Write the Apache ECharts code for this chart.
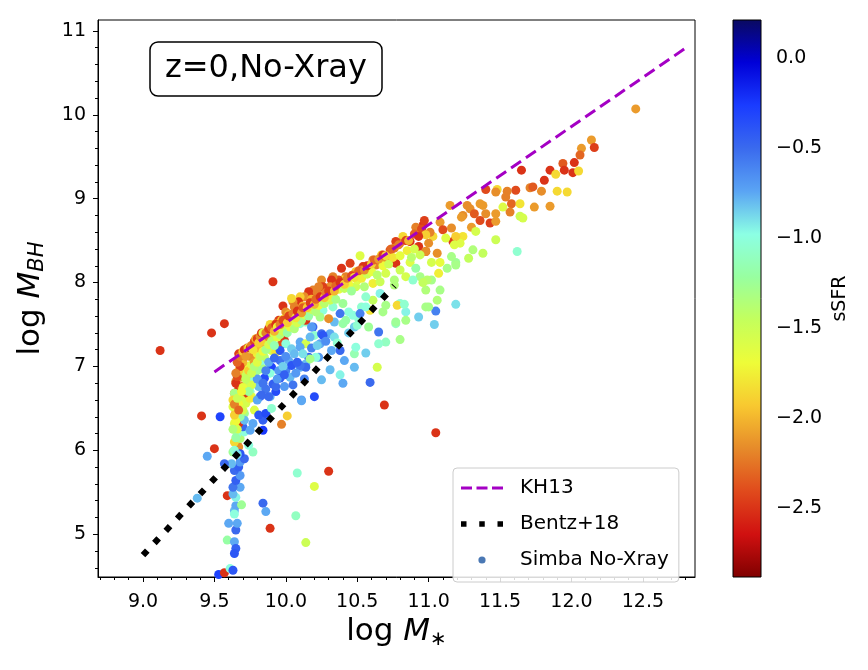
<!DOCTYPE html>
<html><head><meta charset="utf-8">
<script src="https://cdn.jsdelivr.net/npm/echarts@6/dist/echarts.min.js"></script>
<style>html,body{margin:0;padding:0;background:#fff}#c{width:868px;height:670px}</style>
</head><body><div id="c"></div>
<script>
// ---------------- data ----------------
const logMstar = [
12.45,12.14,12.16,12.07,12.06,12.02,11.94,11.95,12.01,12.05,
11.85,11.89,11.81,11.65,11.71,11.73,11.79,11.90,11.97,11.85,
11.74,11.61,11.55,11.48,11.47,11.40,11.54,11.58,11.64,11.52,
11.57,11.64,11.66,11.47,11.43,11.47,11.40,11.36,11.38,11.36,
11.27,11.24,11.30,11.24,11.33,11.47,11.62,11.38,11.31,11.15,
11.08,11.16,11.17,11.10,11.03,10.96,11.06,10.98,11.22,11.29,
11.32,11.23,10.97,11.01,11.12,11.19,
10.91,10.95,10.98,10.93,10.98,11.00,10.87,10.82,10.80,10.77,
10.76,10.73,10.71,10.77,10.67,10.66,10.63,10.61,10.58,10.54,
10.52,10.53,10.49,10.45,10.47,10.42,10.39,10.40,10.37,10.33,
10.32,10.31,10.25,10.26,10.23,10.19,10.18,10.24,10.28,10.16,
10.13,10.10,10.09,10.05,10.06,9.98,10.04,10.00,10.03,9.99,
10.49,10.55,10.61,10.66,10.70,10.76,10.84,10.94,10.89,10.98,
10.98,10.93,10.80,10.84,10.77,10.70,10.66,10.61,10.56,10.53,
10.59,10.51,10.48,10.42,10.44,10.40,10.33,10.38,10.34,10.31,
10.26,10.24,10.30,10.19,10.21,10.14,10.12,10.10,10.05,10.14,
9.91,9.57,9.48,10.14,10.01,9.95,9.90,9.93,9.99,9.97,
9.87,9.84,9.83,9.78,9.76,9.82,9.75,9.78,9.74,9.75,
9.69,9.68,9.67,9.69,9.65,9.64,9.71,9.75,9.76,9.85,
9.90,9.93,10.00,10.04,9.96,10.10,10.14,10.20,10.18,10.25,
10.23,10.16,10.10,10.14,10.02,9.96,9.90,9.95,10.00,10.03,
9.96,9.89,9.85,9.81,9.86,9.99,9.89,9.82,9.93,10.20,
9.82,9.84,
10.78,10.83,11.04,11.05,11.00,10.84,10.77,10.68,10.65,10.58,
10.80,10.70,10.65,10.56,10.48,10.49,10.64,10.59,10.48,10.41,
10.38,10.40,10.31,10.25,10.11,10.69,11.05,10.38,10.32,10.21,
10.17,10.14,10.10,10.05,10.04,10.31,10.24,10.26,10.17,10.10,
10.56,10.47,10.40,10.50,10.52,
9.41,9.54,9.50,9.45,9.38,9.59,9.89,9.84,9.86,10.08,
10.20,10.30,10.07,10.14,9.53,9.57,9.61,9.63,9.59,9.64,
9.65,9.64,9.65,9.66,9.60,9.64,9.65,9.69,9.64,9.65,
9.63,9.68,9.63,9.65,9.68,9.64,9.67,9.68,9.62,9.71,
9.57,9.66,9.67,9.64,9.68,9.71,9.66,9.67,9.70,9.64,
9.67,9.65,9.63,9.68,9.71,9.72,9.75,9.68,9.71,9.64,
9.65,9.74,9.78,9.80,9.83,9.84,9.81,9.86,9.84,9.75,
9.77,9.71,9.90,9.91,9.93,9.88,9.97,10.01,10.11,9.77,
9.63,9.68,9.74,9.12,
11.19,11.19,11.07,11.02,11.13,11.16,11.28,11.19,11.08,11.06,
10.94,11.02,10.87,10.80,10.91,10.76,10.99,11.08,11.18,10.96,
9.70,9.72,9.70,9.73,9.69,9.67,9.66,9.68,9.70,9.66,
9.65,9.64,9.66,9.74,9.76,9.78,9.80,9.82,9.85,9.88,
9.87,9.92,9.95,9.97,10.00,10.02,10.06,10.08,10.12,10.15,
10.18,10.20,10.22,10.25,9.80,9.78,9.76,
9.86,9.88,9.92,9.98,10.00,10.06,10.08,10.12,10.18,10.22,
10.28,10.34,10.36,10.44,9.94,9.99,10.07,10.13,9.80,9.84,
9.70,9.72,9.74,9.76,9.78,9.80,9.82,9.84,9.86,9.88,
9.90,9.92,9.94,9.96,9.98,10.01,10.03,10.06,10.08,10.11,
10.13,10.16,10.18,10.21,10.23,10.27,10.29,10.32,10.35,10.37,
10.41,10.44,10.46,10.50,10.53,10.57,10.60,10.64,10.68,10.72,
10.75,10.80,10.85,10.90,10.88,
9.63,9.64,9.65,9.63,9.64,9.66,9.67,9.69,9.66,9.67,9.68,9.65,
9.66,9.67,9.68,9.70,9.71,9.72,9.73,9.74,9.75,9.76,
9.77,9.78,9.79,9.80,9.81,9.82,9.83,9.84,9.86,9.88,
9.89,9.90,9.92,9.93,9.94,9.96,9.98,10.01,10.02,10.05,
10.07,10.08,10.11,10.12,10.15,10.17,10.20,10.21,10.24,10.27,
10.28,10.30,10.34,10.35,10.38,10.41,10.43,10.46,10.48,10.51,
10.55,10.57,10.60,10.62,10.65,10.68,10.70,10.74,10.79,10.84,
10.86,10.90,10.93
];
const logMBH = [
10.07,9.70,9.61,9.60,9.52,9.43,9.42,9.34,9.31,9.33,
9.34,9.29,9.22,9.34,9.13,9.14,9.09,9.09,9.08,8.91,
8.90,9.10,9.09,9.11,9.08,9.11,9.02,8.94,8.94,8.90,
8.84,8.79,8.77,8.82,8.71,8.73,8.82,8.74,8.92,8.94,
8.92,8.80,8.66,8.55,8.61,8.51,8.37,8.35,8.39,8.92,
8.72,8.65,8.49,8.63,8.55,8.68,8.35,8.37,8.47,8.88,
8.82,8.78,8.74,8.60,8.53,8.55,
8.66,8.64,8.57,8.43,8.37,8.47,8.49,8.55,8.47,8.49,
8.41,8.39,8.28,8.23,8.33,8.25,8.21,8.27,8.19,8.19,
8.32,8.15,8.13,8.23,8.09,8.07,8.17,8.03,8.03,8.07,
8.03,7.95,8.03,7.95,7.95,7.91,7.85,7.85,7.87,7.89,
7.83,7.83,7.77,7.77,7.71,7.72,7.81,7.65,7.59,7.57,
7.95,7.95,7.99,8.01,8.11,8.03,8.07,8.07,8.03,7.91,
7.71,7.59,7.75,7.65,7.51,7.73,7.87,7.79,7.83,7.71,
7.67,7.57,7.47,7.55,7.65,7.75,7.71,7.63,7.53,7.79,
7.67,7.59,7.57,7.47,7.71,7.67,7.59,7.51,7.51,7.53,
8.01,7.51,7.40,7.55,7.63,7.55,7.43,7.51,7.31,7.27,
7.29,7.25,7.19,7.27,7.11,7.07,6.99,6.89,6.95,6.82,
6.95,6.87,6.73,6.76,6.82,6.68,6.66,6.70,6.64,7.11,
7.19,7.17,7.27,7.21,7.19,7.29,7.27,7.37,7.47,7.39,
7.11,7.11,6.99,7.03,7.07,7.07,6.99,6.95,6.95,6.87,
6.86,6.92,6.86,6.76,6.73,6.76,6.64,6.64,6.70,6.64,
7.03,6.97,
7.73,7.74,7.50,7.66,7.71,7.55,7.53,7.65,7.41,7.47,
7.32,7.29,7.27,7.16,7.15,7.23,6.99,6.81,6.99,7.07,
6.90,6.80,6.96,6.84,6.60,6.54,6.21,7.19,7.19,7.11,
7.09,6.99,7.01,6.78,7.01,7.39,7.27,7.37,7.35,7.23,
7.71,7.61,7.51,7.49,7.63,
6.41,6.40,6.02,5.93,5.43,5.46,5.07,5.37,5.27,5.73,
5.57,5.75,5.22,4.90,4.52,4.54,4.59,4.57,4.93,4.91,
4.83,4.77,5.05,5.13,5.13,5.28,5.34,5.35,5.24,5.44,
5.48,5.56,5.56,5.64,5.70,5.76,5.80,5.86,5.84,5.90,
5.84,6.06,6.04,6.10,6.14,6.22,6.20,6.28,6.28,6.32,
6.32,6.45,6.52,6.52,6.44,6.56,6.62,6.66,6.68,6.68,
6.80,6.80,6.48,6.60,6.66,6.36,6.42,6.44,6.24,6.24,
6.32,6.36,6.50,6.79,6.76,6.64,6.31,6.41,6.59,5.98,
5.98,5.96,6.06,7.19,
7.74,8.24,8.11,8.03,8.17,8.31,8.29,8.21,7.91,7.79,
8.33,8.24,8.24,8.15,8.17,7.97,8.03,8.24,8.45,8.00,
6.90,7.00,7.05,6.75,6.60,6.55,6.40,6.40,6.48,6.25,
6.15,6.00,5.95,6.95,7.02,7.05,7.15,7.22,7.30,7.35,
7.42,7.38,7.45,7.55,7.50,7.62,7.55,7.65,7.72,7.68,
7.80,7.75,7.88,7.78,6.95,6.85,6.78,
6.95,7.05,7.10,7.00,7.12,7.15,7.05,7.15,7.22,7.25,
7.30,7.35,7.28,7.40,6.85,6.90,6.92,6.85,6.85,6.80,
6.75,6.85,6.70,6.92,7.00,7.05,7.12,7.18,7.20,7.26,
7.30,7.25,7.35,7.38,7.42,7.40,7.47,7.45,7.52,7.55,
7.62,7.60,7.68,7.65,7.73,7.75,7.82,7.85,7.80,7.92,
7.93,7.98,7.90,8.03,8.05,8.10,8.13,8.09,8.20,8.22,
8.30,8.32,8.38,8.40,8.30,
6.60,6.55,6.35,6.25,6.42,6.62,6.48,6.70,6.88,6.95,7.00,6.92,
7.05,7.15,7.12,7.18,7.20,7.12,7.22,7.22,7.22,7.25,
7.20,7.30,7.33,7.33,7.28,7.36,7.40,7.40,7.40,7.45,
7.50,7.46,7.42,7.50,7.47,7.50,7.55,7.52,7.60,7.63,
7.58,7.66,7.64,7.70,7.70,7.76,7.74,7.80,7.83,7.82,
7.88,7.90,7.90,7.96,8.00,7.98,8.05,8.08,8.06,8.14,
8.15,8.20,8.22,8.27,8.28,8.33,8.32,8.40,8.45,8.50,
8.50,8.58,8.55
];
const sSFR = [
-2.1,-2.1,-2.45,-2.1,-2.3,-2.5,-2.35,-2.5,-2.5,-1.85,
-2.5,-1.85,-2.5,-2.5,-2.2,-2.35,-2.15,-1.85,-1.85,-2.1,
-2.1,-2.4,-2.2,-1.85,-2.15,-2.4,-2.2,-2.3,-1.8,-1.6,
-2.2,-1.5,-1.55,-2.1,-2.45,-2.1,-2.15,-2.4,-2.1,-2.1,
-2.15,-2.15,-2.1,-1.8,-1.55,-1.5,-1.05,-1.45,-1.35,-2.1,
-2.1,-2.15,-2.45,-2.4,-1.85,-2.5,-2.15,-2.45,-1.6,-2.15,
-2.35,-2.1,-2.45,-2.2,-1.6,-1.9,
-2.2,-2.4,-1.9,-2.5,-2.15,-2.15,-2.5,-1.85,-2.15,-2.45,
-2.2,-2.35,-2.15,-2.5,-1.9,-2.1,-2.2,-2.2,-1.85,-2.5,
-1.6,-2.2,-1.9,-2.45,-2.15,-2.2,-2.5,-1.85,-2.4,-2.2,
-2.5,-2.15,-2.15,-2.45,-2.2,-2.2,-2.5,-1.85,-2.1,-2.5,
-2.15,-1.9,-2.5,-2.15,-2.2,-2.5,-1.85,-2.15,-2.45,-1.75,
-1.5,-1.35,-1.75,-1.5,-1.55,-1.35,-1.55,-1.3,-1.05,-1.35,
-1.3,-0.85,-1.05,-0.95,-1.1,-1.3,-0.95,-1.45,-1.05,-1.05,
-1.8,-1.05,-0.85,-1.2,-1.0,-1.25,-1.05,-0.55,-0.8,-1.5,
-1.0,-1.3,-2.15,-0.5,-1.6,-1.0,-1.8,-1.05,-0.85,-1.1,
-2.5,-2.5,-2.5,-2.5,-2.15,-2.45,-2.5,-2.2,-2.5,-2.4,
-2.15,-2.45,-2.5,-2.2,-2.15,-2.5,-2.0,-2.2,-2.45,-2.15,
-1.85,-2.15,-2.5,-2.2,-2.15,-2.15,-1.85,-1.05,-1.6,-1.4,
-1.55,-1.8,-1.0,-0.85,-0.4,-0.75,-1.55,-1.05,-0.7,-0.5,
-0.7,-0.45,-0.75,-0.8,-0.75,-0.55,-0.3,-0.7,-0.6,-0.8,
-0.45,-1.0,-0.35,-0.8,-0.55,-0.7,-0.75,-0.5,-0.35,-0.35,
-1.0,-1.3,
-1.85,-1.05,-0.85,-0.6,-1.3,-1.3,-1.25,-1.3,-0.55,-1.25,
-1.3,-1.1,-1.05,-0.85,-1.15,-1.0,-1.55,-0.5,-0.8,-0.75,
-0.95,-0.75,-0.8,-0.8,-0.7,-2.5,-2.5,-0.5,-0.75,-1.0,
-1.3,-0.5,-0.55,-0.55,-0.4,-0.75,-0.75,-0.4,-0.8,-0.75,
-1.0,-1.0,-1.2,-1.05,-0.6,
-2.5,-0.3,-2.5,-0.75,-0.8,-2.5,-2.5,-0.5,-0.75,-1.05,
-1.6,-2.5,-1.1,-1.5,-0.3,-2.5,-1.0,-0.4,-1.2,-0.75,
-0.45,-0.4,-0.5,-0.75,-0.75,-0.8,-0.75,-1.25,-1.0,-0.95,
-0.8,-0.75,-0.55,-0.45,-0.7,-0.5,-0.45,-0.7,-0.8,-0.5,
-0.5,-2.5,-2.15,-1.85,-1.35,-1.0,-1.05,-0.8,-0.5,-1.6,
-2.5,-2.15,-1.6,-1.4,-1.3,-1.55,-1.75,-2.1,-2.5,-1.3,
-2.5,-1.8,-1.6,-0.75,-0.5,-0.45,-0.4,-0.35,-0.25,-0.75,
-0.75,-0.8,-1.05,-0.45,-0.5,-0.5,-2.2,-1.9,-0.75,-1.1,
-1.25,-0.4,-1.0,-2.5,
-0.9,-1.25,-1.75,-1.3,-1.3,-1.3,-1.45,-1.3,-1.3,-1.35,
-1.5,-1.55,-1.6,-1.5,-1.2,-1.35,-1.4,-1.65,-1.6,-1.45,
-1.5,-1.7,-2.0,-1.4,-1.55,-1.7,-1.45,-1.2,-1.55,-1.55,
-1.2,-1.05,-0.9,-1.9,-1.6,-2.1,-1.75,-2.0,-1.9,-2.2,
-1.7,-1.55,-1.8,-1.9,-1.6,-2.0,-1.5,-1.75,-2.0,-1.45,
-2.0,-1.7,-2.2,-1.6,-1.25,-1.05,-1.55,
-0.6,-0.75,-0.5,-0.85,-0.65,-0.8,-0.45,-0.9,-0.6,-0.85,
-0.65,-0.9,-1.05,-0.85,-0.7,-0.45,-0.7,-0.6,-0.7,-0.55,
-1.65,-1.45,-1.25,-1.5,-1.35,-1.6,-1.45,-1.7,-1.3,-1.55,
-1.4,-1.15,-1.6,-1.35,-1.5,-1.2,-1.65,-1.35,-1.55,-1.3,
-1.6,-1.2,-1.5,-1.35,-1.7,-1.4,-1.6,-1.75,-1.3,-1.65,
-1.45,-1.7,-1.25,-1.6,-1.75,-1.5,-1.65,-1.4,-1.7,-1.5,
-1.8,-1.65,-1.75,-1.55,-1.4,
-1.85,-2.2,-1.7,-1.35,-1.9,-1.5,-2.3,-1.7,-2.4,-1.9,-2.45,-2.2,
-2.3,-2.45,-2.2,-1.9,-2.5,-2.1,-2.3,-1.7,-2.5,-2.2,
-1.8,-2.4,-2.0,-2.45,-1.9,-2.15,-2.5,-1.6,-2.2,-2.45,
-1.85,-2.3,-2.0,-2.5,-1.75,-2.2,-2.4,-1.9,-2.45,-2.2,
-1.8,-2.5,-2.1,-2.35,-1.9,-2.45,-2.0,-2.3,-2.5,-1.95,
-2.2,-2.45,-2.0,-2.3,-2.5,-1.9,-2.2,-2.4,-1.8,-2.3,
-2.15,-2.5,-1.9,-2.3,-2.1,-2.45,-1.85,-2.3,-2.2,-2.45,
-2.0,-2.3,-2.5
];
// reference relations (end points)
const kh13X = [9.5, 12.8];
const kh13Y = [6.935, 10.796];
const bentzX = [9.0, 10.76];
const bentzY = [4.75, 7.96];
// axes
const xTicks = [9.0, 9.5, 10.0, 10.5, 11.0, 11.5, 12.0, 12.5];
const yTicks = [5, 6, 7, 8, 9, 10, 11];
const cbTicks = [-2.5, -2.0, -1.5, -1.0, -0.5, 0.0];
const xRange = [8.685, 12.865];
const yRange = [4.49, 11.13];
const cbRange = [-2.88, 0.21];
const cmap = ['#7f0000','#d01010','#e04a1c','#e68a2a','#f8c830','#eefc38','#c4ff5c',
              '#98ffa0','#8cffe4','#5aa4f4','#3a6aee','#1a3cff','#0000d8','#0a0a60'];

// ---------------- build ----------------
const FONT = 'DejaVu Sans';
const n = Math.min(logMstar.length, logMBH.length, sSFR.length);
const pts = [];
for (let i = 0; i < n; i++) pts.push([logMstar[i], logMBH[i], sSFR[i]]);
const minorX = []; for (let k = 87; k <= 128; k++) minorX.push(k / 10);
const minorY = []; for (let k = 23; k <= 55; k++) minorY.push(k / 5);
const svgIcon = s => 'image://data:image/svg+xml;charset=utf-8,' + encodeURIComponent(s);
const iconKH = svgIcon('<svg xmlns="http://www.w3.org/2000/svg" width="42" height="14" viewBox="0 0 42 14"><line x1="0" y1="7" x2="42" y2="7" stroke="#a400c4" stroke-width="3" stroke-dasharray="11 4.5"/></svg>');
const iconBZ = svgIcon('<svg xmlns="http://www.w3.org/2000/svg" width="42" height="14" viewBox="0 0 42 14"><rect x="0" y="4.25" width="5.5" height="5.5" fill="#000"/><rect x="18.25" y="4.25" width="5.5" height="5.5" fill="#000"/><rect x="36.5" y="4.25" width="5.5" height="5.5" fill="#000"/></svg>');
const iconSB = svgIcon('<svg xmlns="http://www.w3.org/2000/svg" width="42" height="14" viewBox="0 0 42 14"><circle cx="21" cy="7" r="3.6" fill="#4a78b4"/></svg>');

const chart = echarts.init(document.getElementById('c'), null, {renderer: 'canvas'});
const black = {color: '#000', width: 1};
chart.setOption({
  animation: false,
  backgroundColor: '#fff',
  textStyle: {fontFamily: FONT},
  title: {
    text: 'z=0,No-Xray', left: 150, top: 42,
    padding: [8, 15, 8, 15],
    borderColor: '#000', borderWidth: 1.5, borderRadius: 8, backgroundColor: '#fff',
    textStyle: {fontSize: 32, fontWeight: 'normal', fontFamily: FONT, color: '#000', lineHeight: 38}
  },
  legend: {
    orient: 'vertical', left: 453, top: 468,
    itemWidth: 42, itemHeight: 14, itemGap: 16,
    padding: [10, 10, 12, 8],
    borderColor: '#cccccc', borderWidth: 1, borderRadius: 4,
    backgroundColor: 'rgba(255,255,255,0.85)',
    selectedMode: false,
    textStyle: {fontSize: 20, fontFamily: FONT, color: '#000', padding: [0, 0, 0, 12]},
    data: [
      {name: 'KH13', icon: iconKH},
      {name: 'Bentz+18', icon: iconBZ},
      {name: 'Simba No-Xray', icon: iconSB}
    ]
  },
  grid: [
    {left: 98, top: 20, width: 597, height: 557, show: true, borderColor: '#000', borderWidth: 1, backgroundColor: 'transparent'},
    {left: 733, top: 20, width: 28, height: 557}
  ],
  visualMap: {
    show: false, type: 'continuous', seriesIndex: 0, dimension: 2,
    min: cbRange[0], max: cbRange[1], inRange: {color: cmap}
  },
  xAxis: [
    {gridIndex: 0, type: 'value', min: xRange[0], max: xRange[1], position: 'bottom',
     axisLine: {show: true, onZero: false, lineStyle: black},
     axisTick: {show: true, customValues: xTicks, length: 5, lineStyle: black},
     axisLabel: {customValues: xTicks, formatter: v => v.toFixed(1), fontSize: 19, color: '#000', margin: 16, fontFamily: FONT},
     splitLine: {show: false},
     name: '{a|log }{b|M}{c|∗}', nameLocation: 'middle', nameGap: 38,
     nameTextStyle: {color: '#000', rich: {
       a: {fontSize: 31, fontFamily: FONT, color: '#000'},
       b: {fontSize: 31, fontFamily: FONT, fontStyle: 'italic', color: '#000'},
       c: {fontSize: 20, fontFamily: FONT, color: '#000', padding: [14, 0, 0, 0]}
     }}},
    {gridIndex: 0, type: 'value', min: xRange[0], max: xRange[1], position: 'bottom',
     axisLine: {show: false}, axisLabel: {show: false}, splitLine: {show: false},
     axisTick: {show: true, customValues: minorX, length: 3, lineStyle: black}},
    {gridIndex: 1, type: 'value', min: 0, max: 1, show: false}
  ],
  yAxis: [
    {gridIndex: 0, type: 'value', min: yRange[0], max: yRange[1], position: 'left',
     axisLine: {show: true, onZero: false, lineStyle: black},
     axisTick: {show: true, customValues: yTicks, length: 5, lineStyle: black},
     axisLabel: {customValues: yTicks, formatter: v => String(v), fontSize: 19, color: '#000', margin: 12, fontFamily: FONT},
     splitLine: {show: false},
     name: '{a|log }{b|M}{c|BH}', nameLocation: 'middle', nameGap: 50, nameRotate: 90,
     nameTextStyle: {color: '#000', rich: {
       a: {fontSize: 31, fontFamily: FONT, color: '#000'},
       b: {fontSize: 31, fontFamily: FONT, fontStyle: 'italic', color: '#000'},
       c: {fontSize: 21, fontFamily: FONT, fontStyle: 'italic', color: '#000', padding: [14, 0, 0, 0]}
     }}},
    {gridIndex: 0, type: 'value', min: yRange[0], max: yRange[1], position: 'left',
     axisLine: {show: false}, axisLabel: {show: false}, splitLine: {show: false},
     axisTick: {show: true, customValues: minorY, length: 3, lineStyle: black}},
    {gridIndex: 1, type: 'value', min: cbRange[0], max: cbRange[1], position: 'right',
     axisLine: {show: false},
     axisTick: {show: true, customValues: cbTicks, length: 6, lineStyle: black},
     axisLabel: {customValues: cbTicks, formatter: v => (v < 0 ? '\u2212' : '') + Math.abs(v).toFixed(1),
                 fontSize: 19, color: '#000', margin: 15, fontFamily: FONT},
     splitLine: {show: false},
     name: 'sSFR', nameLocation: 'middle', nameRotate: 90, nameGap: 70,
     nameTextStyle: {fontSize: 19, color: '#000', fontFamily: FONT}}
  ],
  series: [
    {name: 'Simba No-Xray', type: 'scatter', xAxisIndex: 0, yAxisIndex: 0,
     data: pts, symbolSize: 9, itemStyle: {color: '#4a78b4', opacity: 1}, z: 2, silent: true},
    {name: 'KH13', type: 'line', xAxisIndex: 0, yAxisIndex: 0,
     data: kh13X.map((x, i) => [x, kh13Y[i]]), showSymbol: false, symbol: 'none',
     lineStyle: {color: '#a400c4', width: 3, type: [12, 6], cap: 'butt'}, z: 4, silent: true},
    {name: 'Bentz+18', type: 'line', xAxisIndex: 0, yAxisIndex: 0,
     data: bentzX.map((x, i) => [x, bentzY[i]]), showSymbol: false, symbol: 'none',
     lineStyle: {color: '#000', width: 6.3, type: [6.3, 10.4], cap: 'butt'}, z: 5, silent: true},
    {name: 'colorbar', type: 'custom', xAxisIndex: 2, yAxisIndex: 2, data: [[0]], silent: true, clip: false,
     renderItem: (params, api) => {
       const p0 = api.coord([0, cbRange[1]]);
       const p1 = api.coord([1, cbRange[0]]);
       return {type: 'rect',
         shape: {x: p0[0], y: p0[1], width: p1[0] - p0[0], height: p1[1] - p0[1]},
         style: {fill: new echarts.graphic.LinearGradient(0, 1, 0, 0,
                   cmap.map((c, i) => ({offset: i / (cmap.length - 1), color: c}))),
                 stroke: '#000', lineWidth: 1}};
     }}
  ]
});
</script></body></html>
